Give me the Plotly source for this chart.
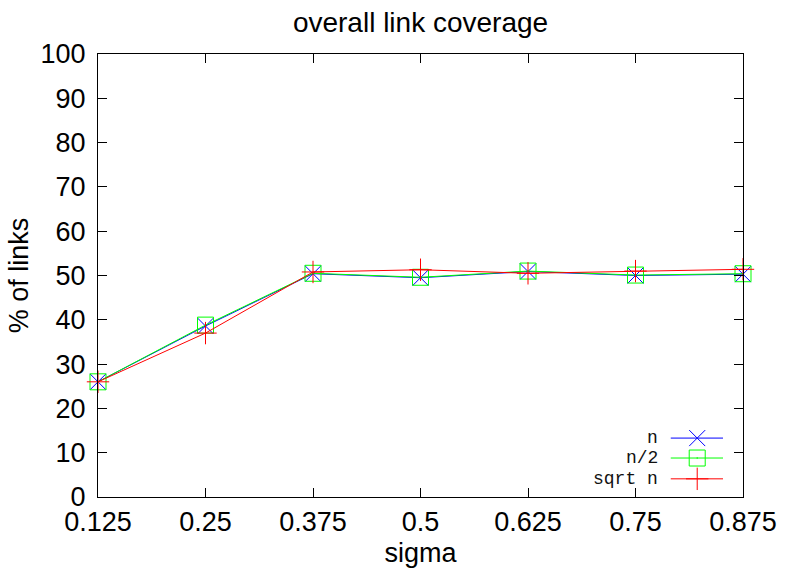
import plotly.graph_objects as go

# Sigma values on the x axis and link coverage (%) for each sample size
sigma = [0.125, 0.25, 0.375, 0.5, 0.625, 0.75, 0.875]
sigma_labels = ["0.125", "0.25", "0.375", "0.5", "0.625", "0.75", "0.875"]

cov_n = [26.0, 38.6, 50.4, 49.5, 50.9, 50.0, 50.3]
cov_half_n = [26.0, 38.8, 50.5, 49.6, 51.0, 50.1, 50.4]
cov_sqrt_n = [26.0, 37.0, 50.8, 51.3, 50.5, 51.0, 51.4]

series = [
    ("n", cov_n, "#0000ff", "x-thin"),
    ("n/2", cov_half_n, "#00ff00", "square-open-dot"),
    ("sqrt n", cov_sqrt_n, "#ff0000", "cross-thin"),
]

FONT = "Liberation Sans, Arial, sans-serif"
KEY_FONT = "Liberation Mono, Courier New, monospace"

fig = go.Figure()

for name, vals, color, sym in series:
    fig.add_trace(go.Scatter(
        x=sigma, y=vals, name=name, mode="lines+markers",
        line=dict(color=color, width=1),
        marker=dict(symbol=sym, size=16, color=color,
                    line=dict(color=color, width=1)),
        showlegend=False, cliponaxis=False,
    ))

# Key in the lower-right corner: label on the left, sample on the right
key_rows = [0.133, 0.088, 0.041]
key_text_x = 0.871
key_line = (0.888, 0.969)
key_mark = 0.929
annotations = []
for (name, vals, color, sym), ky in zip(series, key_rows):
    fig.add_trace(go.Scatter(
        x=list(key_line), y=[ky, ky], mode="lines",
        line=dict(color=color, width=1), xaxis="x2", yaxis="y2",
        showlegend=False, hoverinfo="skip",
    ))
    fig.add_trace(go.Scatter(
        x=[key_mark], y=[ky], mode="markers",
        marker=dict(symbol=sym, size=16, color=color,
                    line=dict(color=color, width=1)),
        xaxis="x2", yaxis="y2", showlegend=False, hoverinfo="skip",
    ))
    annotations.append(dict(
        x=key_text_x, y=ky, xref="paper", yref="paper", text=name,
        showarrow=False, xanchor="right", yanchor="middle",
        font=dict(family=KEY_FONT, size=18, color="#111111"),
    ))

axis_common = dict(
    showline=True, linecolor="black", linewidth=1, mirror="ticks",
    ticks="inside", ticklen=9, tickcolor="black", tickwidth=1,
    showgrid=False, zeroline=False, automargin=False,
    tickfont=dict(family=FONT, size=27, color="black"),
)

fig.update_layout(
    width=785, height=568,
    margin=dict(l=98, r=42, t=54, b=71),
    paper_bgcolor="white", plot_bgcolor="white",
    title=dict(text="overall link coverage", x=0.5, xref="paper",
               xanchor="center", y=1 - 22 / 568, yanchor="middle",
               font=dict(family=FONT, size=28, color="black")),
    xaxis=dict(
        range=[0.125, 0.875], tickvals=sigma, ticktext=sigma_labels,
        ticklabelstandoff=1,
        title=dict(text="sigma", standoff=9,
                   font=dict(family=FONT, size=27, color="black")),
        **axis_common,
    ),
    yaxis=dict(
        range=[0, 100], tick0=0, dtick=10, ticklabelstandoff=6,
        title=dict(text="% of links", standoff=4,
                   font=dict(family=FONT, size=27, color="black")),
        **axis_common,
    ),
    xaxis2=dict(range=[0, 1], overlaying="x", visible=False),
    yaxis2=dict(range=[0, 1], overlaying="y", visible=False),
    annotations=annotations,
)

fig.write_html("out.html")
